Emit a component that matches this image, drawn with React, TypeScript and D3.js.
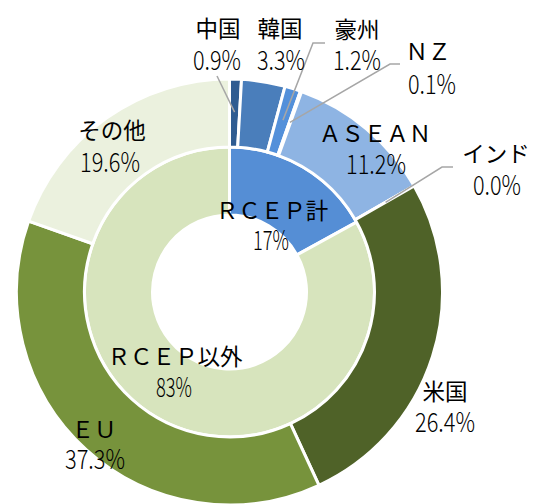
import React from 'react';
import * as d3 from 'd3';

// ---- data ----
const outerLabels = ['中国', '韓国', '豪州', 'ＮＺ', 'ＡＳＥＡＮ', 'インド', '米国', 'ＥＵ', 'その他'];
const outerValues = [0.9, 3.3, 1.2, 0.1, 11.2, 0.0, 26.4, 37.3, 19.6];
const innerLabels = ['ＲＣＥＰ計', 'ＲＣＥＰ以外'];
const innerValues = [17, 83];

// ---- styles / layout ----
const outerColors = ['#2F5C91', '#4A7EBB', '#5390DA', '#6A9FDD', '#8EB4E3', '#7FA6D8', '#4F6228', '#77933C', '#EBF1DE'];
const innerColors = ['#558ED5', '#D7E4BD'];

const W = 549;
const H = 504;
const cx = 229.5;
const cy = 292;
const rHole = 77;
const rMid = 145;
const rOuter = 213;
const rLeader = 180;

// label centres [nameX, nameY, valueX, valueY]
const outerLabelPos: [number, number, number, number][] = [
  [218, 27, 217, 58],
  [280, 27, 281, 58],
  [357, 28, 357, 58],
  [428, 50, 432, 82],
  [375, 132, 376, 162],
  [496, 152, 497, 183],
  [445, 390, 445, 420],
  [94, 428, 95, 457],
  [112, 129, 110, 160],
];
const innerLabelPos: [number, number, number, number][] = [
  [272, 209, 271, 238],
  [175, 355, 174, 385],
];
// leader line start points (index -> polyline points before the slice anchor)
const leaders: Record<number, [number, number][]> = {
  0: [[217, 76]],
  2: [[325, 43], [313, 43]],
  3: [[400, 64], [390, 64]],
  5: [[453, 167], [442, 167]],
};

const fmtOuter = d3.format('.1f');
const fmtInner = d3.format('.0f');

const jpFont = '"Noto Sans CJK JP", sans-serif';
const numFont = '"Noto Sans CJK JP", sans-serif';

function NumText({ x, y, text }: { x: number; y: number; text: string }) {
  return (
    <text
      x={x}
      y={y}
      textAnchor="middle"
      dominantBaseline="central"
      fontFamily={numFont}
      fontWeight={300}
      fontSize={27}
      textLength={12 * text.length}
      lengthAdjust="spacingAndGlyphs"
      fill="#000"
    >
      {text}
    </text>
  );
}

function NameText({ x, y, text }: { x: number; y: number; text: string }) {
  return (
    <text x={x} y={y} textAnchor="middle" dominantBaseline="central" fontFamily={jpFont} fontSize={22.5} fill="#000">
      {text}
    </text>
  );
}

export default function App() {
  const pie = d3.pie<number>().sort(null).value((d) => d);
  const outerArcs = pie(outerValues);
  const innerArcs = pie(innerValues);
  const outerArc = d3.arc<d3.PieArcDatum<number>>().innerRadius(rMid).outerRadius(rOuter);
  const innerArc = d3.arc<d3.PieArcDatum<number>>().innerRadius(rHole).outerRadius(rMid);
  const leaderArc = d3.arc<d3.PieArcDatum<number>>().innerRadius(rLeader).outerRadius(rLeader);

  return (
    <svg
      width={W}
      height={H}
      style={{ position: 'absolute', left: 0, top: 0, background: '#fff' }}
      xmlns="http://www.w3.org/2000/svg"
    >
      <rect x={0} y={0} width={W} height={H} fill="#fff" />
      <g transform={`translate(${cx},${cy})`}>
        {innerArcs.map((a, i) => (
          <path key={'in' + i} d={innerArc(a) || ''} fill={innerColors[i]} stroke="#fff" strokeWidth={3} />
        ))}
        {outerArcs.map((a, i) => (
          <path key={'out' + i} d={outerArc(a) || ''} fill={outerColors[i]} stroke="#fff" strokeWidth={3} />
        ))}
      </g>
      {Object.keys(leaders).map((k) => {
        const i = Number(k);
        const [ax, ay] = leaderArc.centroid(outerArcs[i]);
        const pts = [...leaders[i], [cx + ax, cy + ay]];
        return (
          <polyline
            key={'ld' + i}
            points={pts.map((p) => p.join(',')).join(' ')}
            fill="none"
            stroke="#A6A6A6"
            strokeWidth={1.5}
          />
        );
      })}
      {outerLabels.map((name, i) => {
        const [nx, ny, vx, vy] = outerLabelPos[i];
        return (
          <g key={'ol' + i}>
            <NameText x={nx} y={ny} text={name} />
            <NumText x={vx} y={vy} text={fmtOuter(outerValues[i]) + '%'} />
          </g>
        );
      })}
      {innerLabels.map((name, i) => {
        const [nx, ny, vx, vy] = innerLabelPos[i];
        return (
          <g key={'il' + i}>
            <NameText x={nx} y={ny} text={name} />
            <NumText x={vx} y={vy} text={fmtInner(innerValues[i]) + '%'} />
          </g>
        );
      })}
    </svg>
  );
}
